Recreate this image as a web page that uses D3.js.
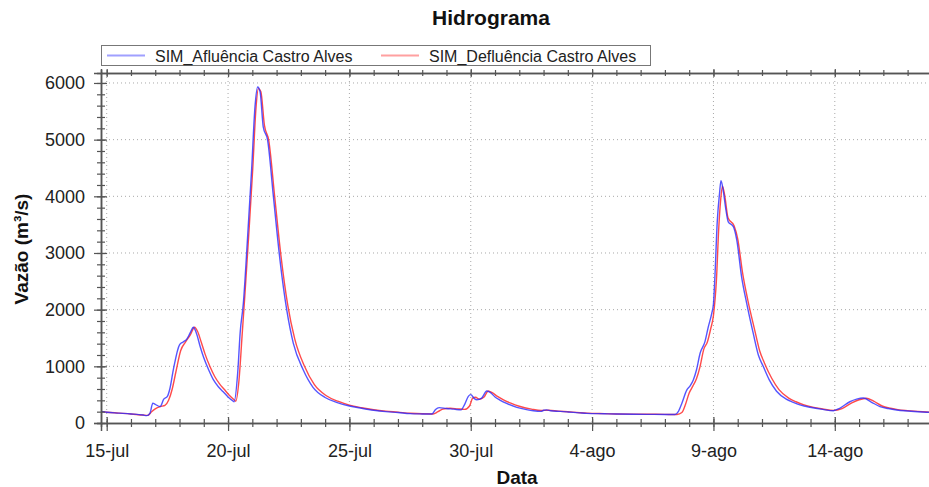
<!DOCTYPE html>
<html>
<head>
<meta charset="utf-8">
<script src="https://cdn.jsdelivr.net/npm/d3@7"></script>
<style>
  html, body { margin: 0; padding: 0; background: #ffffff; }
  svg { display: block; font-family: "Liberation Sans", Arial, sans-serif; }
</style>
</head>
<body>
<svg id="chart" width="929" height="487"></svg>
<script>
// ---------------- DATA ----------------
const chartTitle = "Hidrograma";
const xAxisTitle = "Data";
const yAxisTitle = "Vazão (m³/s)";
const seriesNames = ["SIM_Afluência Castro Alves", "SIM_Defluência Castro Alves"];

// day offsets measured from 15-jul 00:00
const afluenciaDia = [-0.23, 0, 0.5, 1.0, 1.5, 1.65, 1.78, 1.9, 2.0, 2.2, 2.35, 2.5, 2.6, 2.75, 3.0, 3.15, 3.3, 3.45, 3.57, 3.7, 3.85, 4.0, 4.2, 4.4, 4.6, 4.8, 5.0, 5.2, 5.25, 5.4, 5.5, 5.63, 5.79, 5.97, 6.11, 6.22, 6.32, 6.45, 6.63, 6.87, 7.14, 7.42, 7.69, 8.1, 8.5, 9.0, 9.5, 10.0, 10.5, 11.0, 11.5, 12.0, 12.5, 13.0, 13.4, 13.55, 13.7, 14.0, 14.3, 14.6, 14.75, 14.9, 15.0, 15.15, 15.25, 15.45, 15.66, 15.8, 16.0, 16.2, 16.5, 16.9, 17.3, 17.58, 17.9, 18.0, 18.13, 18.3, 18.68, 19.0, 19.5, 19.78, 20.5, 21.0, 22.25, 23.0, 23.42, 23.55, 23.7, 23.9, 24.03, 24.17, 24.3, 24.45, 24.65, 24.79, 24.93, 25.0, 25.06, 25.16, 25.25, 25.31, 25.4, 25.5, 25.61, 25.82, 25.96, 26.16, 26.37, 26.64, 26.85, 27.05, 27.3, 27.6, 28.0, 28.29, 28.6, 28.98, 29.5, 29.94, 30.2, 30.62, 30.9, 31.17, 31.5, 31.86, 32.2, 32.55, 33.0, 33.79, 34.2];
const afluenciaVazao = [205, 190, 175, 160, 140, 130, 170, 350, 330, 290, 420, 470, 600, 950, 1380, 1430, 1480, 1600, 1690, 1580, 1350, 1150, 940, 760, 640, 550, 460, 390, 375, 900, 1600, 2110, 3170, 4460, 5580, 5930, 5845, 5225, 4990, 3990, 2875, 1990, 1405, 935, 630, 450, 360, 300, 260, 225, 200, 185, 165, 160, 158, 240, 272, 255, 245, 232, 330, 470, 500, 430, 410, 440, 565, 540, 460, 405, 340, 275, 235, 215, 205, 225, 232, 215, 205, 195, 178, 170, 163, 158, 153, 150, 150, 200, 350, 580, 650, 760, 935, 1230, 1435, 1700, 1935, 2100, 2580, 3580, 4050, 4275, 4110, 3800, 3550, 3465, 3230, 2580, 2110, 1580, 1200, 1000, 760, 560, 420, 365, 315, 277, 240, 217, 260, 375, 420, 440, 370, 290, 255, 230, 212, 190, 185];

const defluenciaDia = [-0.23, 0, 0.5, 1.0, 1.5, 1.7, 1.85, 2.0, 2.2, 2.4, 2.55, 2.7, 2.85, 3.05, 3.25, 3.45, 3.62, 3.75, 3.9, 4.05, 4.25, 4.45, 4.65, 4.85, 5.05, 5.25, 5.32, 5.45, 5.58, 5.7, 5.85, 6.02, 6.15, 6.25, 6.35, 6.5, 6.68, 6.92, 7.18, 7.46, 7.75, 8.15, 8.55, 9.05, 9.55, 10.0, 10.5, 11.0, 11.5, 12.0, 12.5, 13.0, 13.45, 13.65, 13.85, 14.15, 14.45, 14.75, 14.95, 15.08, 15.2, 15.35, 15.55, 15.72, 15.9, 16.1, 16.35, 16.65, 17.0, 17.5, 17.9, 18.2, 18.6, 19.0, 19.5, 19.8, 20.5, 21.0, 22.25, 23.0, 23.5, 23.7, 23.85, 24.0, 24.15, 24.3, 24.45, 24.6, 24.75, 24.88, 25.0, 25.12, 25.22, 25.3, 25.37, 25.47, 25.6, 25.85, 26.0, 26.2, 26.42, 26.7, 26.9, 27.1, 27.4, 27.7, 28.1, 28.4, 28.7, 29.0, 29.5, 29.94, 30.3, 30.7, 31.0, 31.3, 31.6, 31.95, 32.3, 32.6, 33.0, 33.8, 34.2];
const defluenciaVazao = [200, 190, 175, 160, 140, 135, 200, 250, 290, 310, 400, 600, 900, 1280, 1430, 1560, 1690, 1610, 1420, 1220, 1000, 820, 690, 590, 490, 410, 385, 750, 1550, 2300, 3300, 4500, 5550, 5900, 5850, 5250, 4980, 4000, 2950, 2080, 1480, 1000, 680, 480, 380, 315, 270, 235, 210, 192, 172, 162, 160, 200, 245, 260, 250, 240, 300, 440, 455, 420, 460, 565, 530, 470, 410, 350, 295, 245, 220, 225, 210, 198, 182, 174, 165, 160, 155, 152, 150, 185, 330, 530, 650, 780, 1000, 1300, 1430, 1650, 1900, 2500, 3450, 3950, 4180, 4000, 3620, 3480, 3250, 2650, 2160, 1640, 1280, 1060, 790, 590, 440, 375, 325, 288, 248, 222, 255, 355, 410, 438, 385, 300, 260, 236, 218, 193, 187];

const xTickDates = ["2023-07-15", "2023-07-20", "2023-07-25", "2023-07-30", "2023-08-04", "2023-08-09", "2023-08-14"];
const xTickLabels = ["15-jul", "20-jul", "25-jul", "30-jul", "4-ago", "9-ago", "14-ago"];
const yTicks = [0, 1000, 2000, 3000, 4000, 5000, 6000];

// ---------------- LAYOUT ----------------
const svg = d3.select("#chart");
const plotLeft = 101, plotTop = 73, plotBottom = 423, plotRight = 936;
const pxPerDay = 24.27;
const firstTickInset = 5.7;
const parse = d3.timeParse("%Y-%m-%d");
const base = parse("2023-07-15");
const dayToDate = d => new Date(base.getTime() + d * 86400000);
const startDate = dayToDate(-firstTickInset / pxPerDay);
const endDate = dayToDate((plotRight - plotLeft - firstTickInset) / pxPerDay);

const x = d3.scaleTime().domain([startDate, endDate]).range([plotLeft, plotRight]);
const y = d3.scaleLinear().domain([0, 6176]).range([plotBottom, plotTop]);

const majorDates = xTickDates.map(parse);
const minorDates = d3.timeDay.range(d3.timeDay.ceil(startDate), endDate);

// grid
const grid = svg.append("g");
grid.selectAll("line.h").data(yTicks.filter(v => v > 0)).join("line")
  .attr("x1", plotLeft).attr("x2", plotRight)
  .attr("y1", d => y(d)).attr("y2", d => y(d))
  .attr("stroke", "#a8a8a8").attr("stroke-width", 1).attr("stroke-dasharray", "1,3");
grid.selectAll("line.v").data(majorDates).join("line")
  .attr("x1", d => x(d)).attr("x2", d => x(d))
  .attr("y1", plotTop).attr("y2", plotBottom)
  .attr("stroke", "#a8a8a8").attr("stroke-width", 1).attr("stroke-dasharray", "1,3");

// series
const line = d3.line().x(d => x(d[0])).y(d => y(d[1])).curve(d3.curveMonotoneX);
const deflu = defluenciaDia.map((d, i) => [dayToDate(d), defluenciaVazao[i]]);
const aflu = afluenciaDia.map((d, i) => [dayToDate(d), afluenciaVazao[i]]);
svg.append("clipPath").attr("id", "clip").append("rect")
  .attr("x", plotLeft).attr("y", plotTop).attr("width", plotRight - plotLeft).attr("height", plotBottom - plotTop);
const series = svg.append("g").attr("clip-path", "url(#clip)");
series.append("path").datum(deflu).attr("d", line)
  .attr("fill", "none").attr("stroke", "#ff2a2a").attr("stroke-opacity", 0.85).attr("stroke-width", 1.4);
series.append("path").datum(aflu).attr("d", line)
  .attr("fill", "none").attr("stroke", "#2a2aff").attr("stroke-opacity", 0.8).attr("stroke-width", 1.4);

// axes
const axisColor = "#555";
function styleAxis(g) {
  g.select(".domain").attr("stroke", axisColor).attr("stroke-width", 1.5);
  g.selectAll(".tick line").attr("stroke", axisColor).attr("stroke-width", 1.2);
}
const xMinor = svg.append("g").attr("transform", `translate(0,${plotBottom})`)
  .call(d3.axisBottom(x).tickValues(minorDates).tickSize(4).tickFormat(""));
xMinor.selectAll(".tick line").attr("y1", -4);
styleAxis(xMinor);
const xMajor = svg.append("g").attr("transform", `translate(0,${plotBottom})`)
  .call(d3.axisBottom(x).tickValues(majorDates).tickSize(8).tickPadding(13)
    .tickFormat((d, i) => xTickLabels[i]));
xMajor.selectAll(".tick line").attr("y1", -6);
xMajor.selectAll(".tick text").attr("font-size", 18).attr("fill", "#222")
  .attr("font-family", "Liberation Sans, Arial, sans-serif");
styleAxis(xMajor);
const xTopMinor = svg.append("g").attr("transform", `translate(0,${plotTop})`)
  .call(d3.axisTop(x).tickValues(minorDates).tickSize(3).tickFormat(""));
xTopMinor.selectAll(".tick line").attr("y1", 3);
styleAxis(xTopMinor);
const xTopMajor = svg.append("g").attr("transform", `translate(0,${plotTop})`)
  .call(d3.axisTop(x).tickValues(majorDates).tickSize(4).tickFormat(""));
xTopMajor.selectAll(".tick line").attr("y1", 4);
styleAxis(xTopMajor);

const yMinorTicks = d3.range(0, 6001, 200);
const yMinor = svg.append("g").attr("transform", `translate(${plotLeft},0)`)
  .call(d3.axisLeft(y).tickValues(yMinorTicks).tickSize(4).tickFormat(""));
yMinor.selectAll(".tick line").attr("x1", 4);
styleAxis(yMinor);
const yMajor = svg.append("g").attr("transform", `translate(${plotLeft},0)`)
  .call(d3.axisLeft(y).tickValues(yTicks).tickSize(7).tickPadding(9).tickFormat(d3.format("d")));
yMajor.selectAll(".tick line").attr("x1", 6);
yMajor.selectAll(".tick text").attr("font-size", 18).attr("fill", "#222")
  .attr("font-family", "Liberation Sans, Arial, sans-serif");
styleAxis(yMajor);

// titles
svg.append("text").attr("x", 491).attr("y", 25).attr("text-anchor", "middle")
  .attr("font-size", 21).attr("font-weight", "bold").attr("fill", "#111").text(chartTitle);
svg.append("text").attr("x", 517).attr("y", 484).attr("text-anchor", "middle")
  .attr("font-size", 19).attr("font-weight", "bold").attr("fill", "#111").text(xAxisTitle);
svg.append("text").attr("transform", "translate(28,249) rotate(-90)").attr("text-anchor", "middle")
  .attr("font-size", 19).attr("font-weight", "bold").attr("fill", "#111").text(yAxisTitle);

// legend
const legend = svg.append("g");
legend.append("rect").attr("x", 101.5).attr("y", 45.5).attr("width", 549).attr("height", 20)
  .attr("fill", "#fff").attr("stroke", "#777").attr("stroke-width", 1);
const legColors = ["#a0a0ff", "#ffa0a0"];
const legX = [107, 381];
seriesNames.forEach((n, i) => {
  legend.append("line").attr("x1", legX[i]).attr("x2", legX[i] + 38).attr("y1", 55.5).attr("y2", 55.5)
    .attr("stroke", legColors[i]).attr("stroke-width", 2);
  legend.append("text").attr("x", legX[i] + 48).attr("y", 61.5).attr("font-size", 16).attr("fill", "#222").text(n);
});
</script>
</body>
</html>
